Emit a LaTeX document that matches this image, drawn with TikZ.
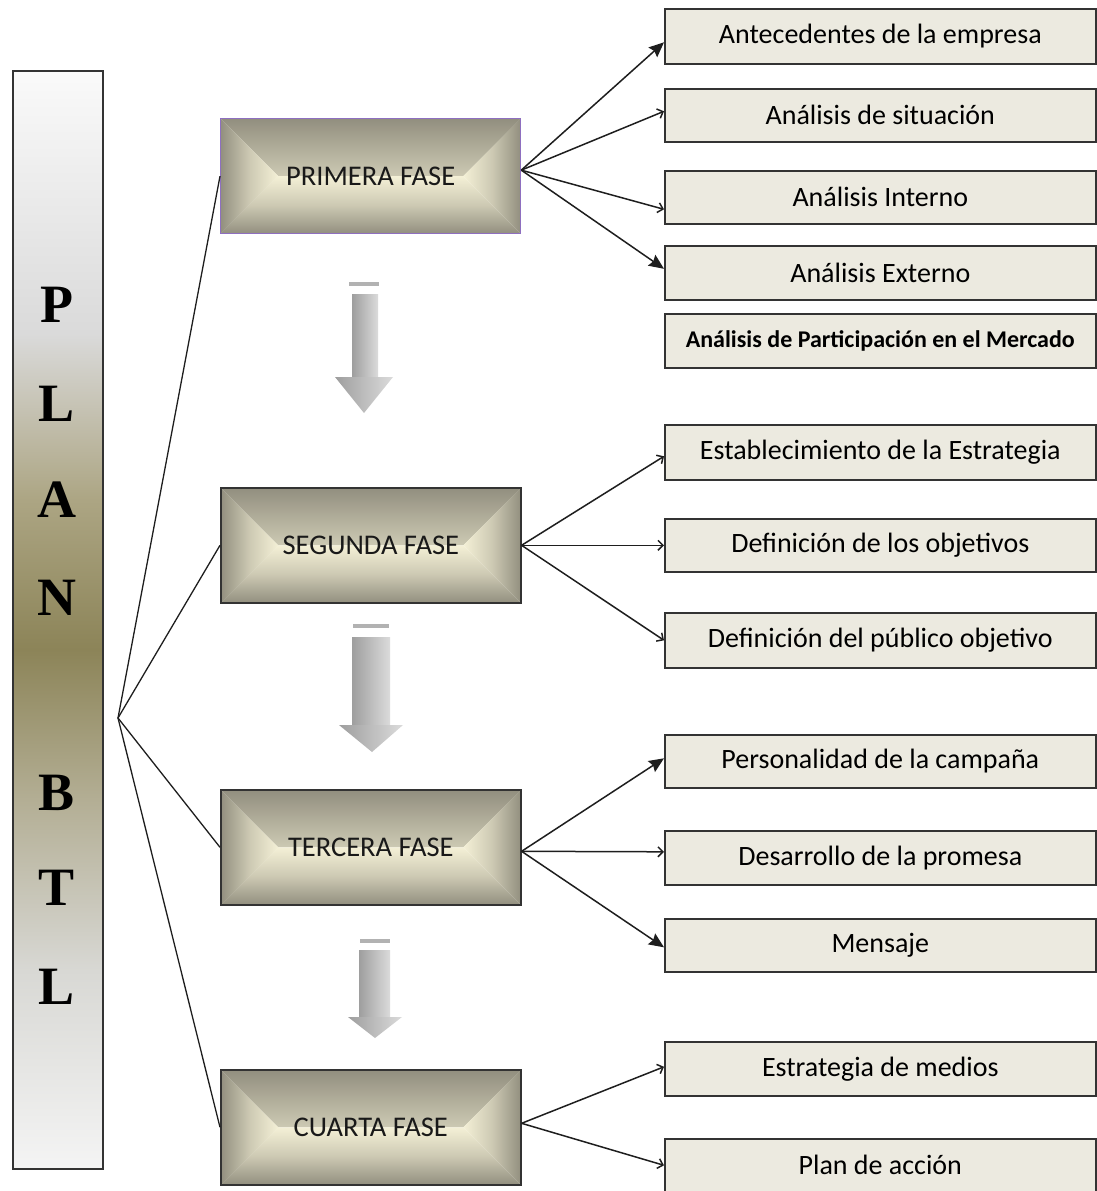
\documentclass[tikz,border=0pt]{standalone}
\usepackage{fontspec}
\setmainfont{Carlito}
\newfontfamily\barfont{Liberation Serif}
\usetikzlibrary{arrows.meta,calc}
\definecolor{boxline}{HTML}{333333}
\definecolor{itemfill}{HTML}{ECEAE0}
\definecolor{phedge}{HTML}{928F7F}
\definecolor{phcream}{HTML}{F4F0D6}
\colorlet{phmid}{phedge!40!phcream}
\definecolor{phpurple}{HTML}{8E6FC0}
\definecolor{barmid}{HTML}{8C8458}
\definecolor{linecol}{HTML}{1E1E1E}
\definecolor{barA}{HTML}{F4F4F4}
\definecolor{barB}{HTML}{D8D8D4}
\definecolor{barC}{HTML}{B3AE94}
\definecolor{barD}{HTML}{ACA583}
\definecolor{barE}{HTML}{DADADA}
\definecolor{barF}{HTML}{FAFAFA}
\pgfdeclareverticalshading{barshade}{100bp}{color(0bp)=(barA); color(25bp)=(barA);
  color(34bp)=(barB); color(41.8bp)=(barC); color(48.6bp)=(barmid); color(55.4bp)=(barD);
  color(63bp)=(barE); color(75bp)=(barF); color(100bp)=(barF)}
\begin{document}
\begin{tikzpicture}[x=1pt,y=-1pt,
  itembox/.style={draw=boxline, line width=1.6pt, fill=itemfill, minimum width=431pt,
    minimum height=54pt, inner sep=0pt, anchor=north west, font=\fontsize{28}{32}\selectfont},
  phasebox/.style={draw=boxline, line width=1.6pt, minimum width=300pt, minimum height=115pt,
    inner sep=0pt, anchor=north west, font=\fontsize{28.5}{32}\selectfont, text=black!90,
    path picture={
      \shade[top color=phedge, bottom color=phcream, middle color=phmid]
        (path picture bounding box.north west) -- (path picture bounding box.north east)
        -- ($(path picture bounding box.east)+(-57.5pt,0pt)$)
        -- ($(path picture bounding box.west)+(57.5pt,0pt)$) -- cycle;
      \shade[top color=phcream, bottom color=phedge, middle color=phmid]
        (path picture bounding box.south west) -- (path picture bounding box.south east)
        -- ($(path picture bounding box.east)+(-57.5pt,0pt)$)
        -- ($(path picture bounding box.west)+(57.5pt,0pt)$) -- cycle;
      \shade[left color=phedge, right color=phcream, middle color=phmid]
        (path picture bounding box.north west)
        -- ($(path picture bounding box.west)+(57.5pt,0pt)$)
        -- (path picture bounding box.south west) -- cycle;
      \shade[left color=phcream, right color=phedge, middle color=phmid]
        (path picture bounding box.north east)
        -- ($(path picture bounding box.east)+(-57.5pt,0pt)$)
        -- (path picture bounding box.south east) -- cycle;
    }},
  barletter/.style={font=\barfont\bfseries\fontsize{54}{60}\selectfont, inner sep=0pt},
  hubline/.style={draw=linecol, line width=1.3pt},
  conn/.style={draw=linecol, line width=1.5pt},
  filledtip/.style={conn, -{Stealth[length=15pt,width=13pt,inset=2pt]}},
  opentip/.style={conn, -{Straight Barb[length=5pt,width=10pt]}},
  downarrow/.style={left color=black!38, right color=black!14},
]
\useasboundingbox (0,0) rectangle (1097,1191);

% left bar
\shade[shading=barshade] (12,70) rectangle (102,1168);
\node[draw=boxline, line width=1.6pt, minimum width=90pt, minimum height=1098pt, inner sep=0pt,
  anchor=north west] (bar) at (12,70) {};
\node[barletter] (lP) at (57,305) {P};
\node[barletter] (lL1) at (57,404) {L};
\node[barletter] (lA) at (57,500) {A};
\node[barletter] (lN) at (57,598) {N};
\node[barletter] (lB) at (57,793) {B};
\node[barletter] (lT) at (57,888) {T};
\node[barletter] (lL2) at (57,987) {L};

\coordinate (hub) at (118,718);

% phase boxes
\node[phasebox, draw=phpurple, line width=1.3pt] (f1) at (220,118) {PRIMERA FASE};
\node[phasebox] (f2) at (220,487) {SEGUNDA FASE};
\node[phasebox] (f3) at (220,789) {TERCERA FASE};
\node[phasebox] (f4) at (220,1069) {CUARTA FASE};

% right boxes
\node[itembox, minimum height=55pt] (b1) at (664,8) {Antecedentes de la empresa};
\node[itembox, minimum height=53pt] (b2) at (664,88) {Análisis de situación};
\node[itembox, minimum height=53pt] (b3) at (664,170) {Análisis Interno};
\node[itembox] (b4) at (664,245) {Análisis Externo};
\node[itembox, font=\bfseries\fontsize{24}{28}\selectfont] (b5) at (664,313) {Análisis de Participación en el Mercado};
\node[itembox, minimum height=55pt] (b6) at (664,424) {Establecimiento de la Estrategia};
\node[itembox, minimum height=53pt] (b7) at (664,518) {Definición de los objetivos};
\node[itembox, minimum height=55pt] (b8) at (664,612) {Definición del público objetivo};
\node[itembox, minimum height=53pt] (b9) at (664,734) {Personalidad de la campaña};
\node[itembox] (b10) at (664,830) {Desarrollo de la promesa};
\node[itembox, minimum height=53pt] (b11) at (664,918) {Mensaje};
\node[itembox] (b12) at (664,1041) {Estrategia de medios};
\node[itembox, minimum height=53pt] (b13) at (664,1138) {Plan de acción};

% hub lines
\draw[hubline] (f1.west) -- (hub) -- (f4.west);
\draw[hubline] (f2.west) -- (hub) -- (f3.west);

% connectors
\coordinate (s1) at ([yshift=6pt]f1.east);
\draw[filledtip] (s1) -- ([yshift=-6pt]b1.west);
\draw[opentip] (s1) -- ([yshift=4pt]b2.west);
\draw[opentip] (s1) -- ([yshift=-12pt]b3.west);
\draw[filledtip] (s1) -- ([yshift=4pt]b4.west);

\coordinate (s2) at (f2.east);
\draw[opentip] (s2) -- ([yshift=-4pt]b6.west);
\draw[opentip] (s2) -- (b7.west);
\draw[opentip] (s2) -- (b8.west);

\coordinate (s3) at ([yshift=-4pt]f3.east);
\draw[filledtip] (s3) -- ([yshift=3pt]b9.west);
\draw[opentip] (s3) -- ([yshift=6pt]b10.west);
\draw[filledtip] (s3) -- ([yshift=-2pt]b11.west);

\coordinate (s4) at ([yshift=4pt]f4.east);
\draw[opentip] (s4) -- ([yshift=2pt]b12.west);
\draw[opentip] (s4) -- (b13.west);

% down arrows between phases
\fill[black!30] (349,282) rectangle (379,286);
\shade[downarrow] (352,294) rectangle (378,377);
\shade[downarrow] (335,377) -- (393,377) -- (364,413) -- cycle;

\fill[black!30] (353,624) rectangle (389,628);
\shade[downarrow] (352,637) rectangle (390,725);
\shade[downarrow] (339,725) -- (403,725) -- (372,752) -- cycle;

\fill[black!30] (360,939) rectangle (390,943);
\shade[downarrow] (359,950) rectangle (390,1017);
\shade[downarrow] (348,1017) -- (402,1017) -- (375,1038) -- cycle;
\end{tikzpicture}
\end{document}
